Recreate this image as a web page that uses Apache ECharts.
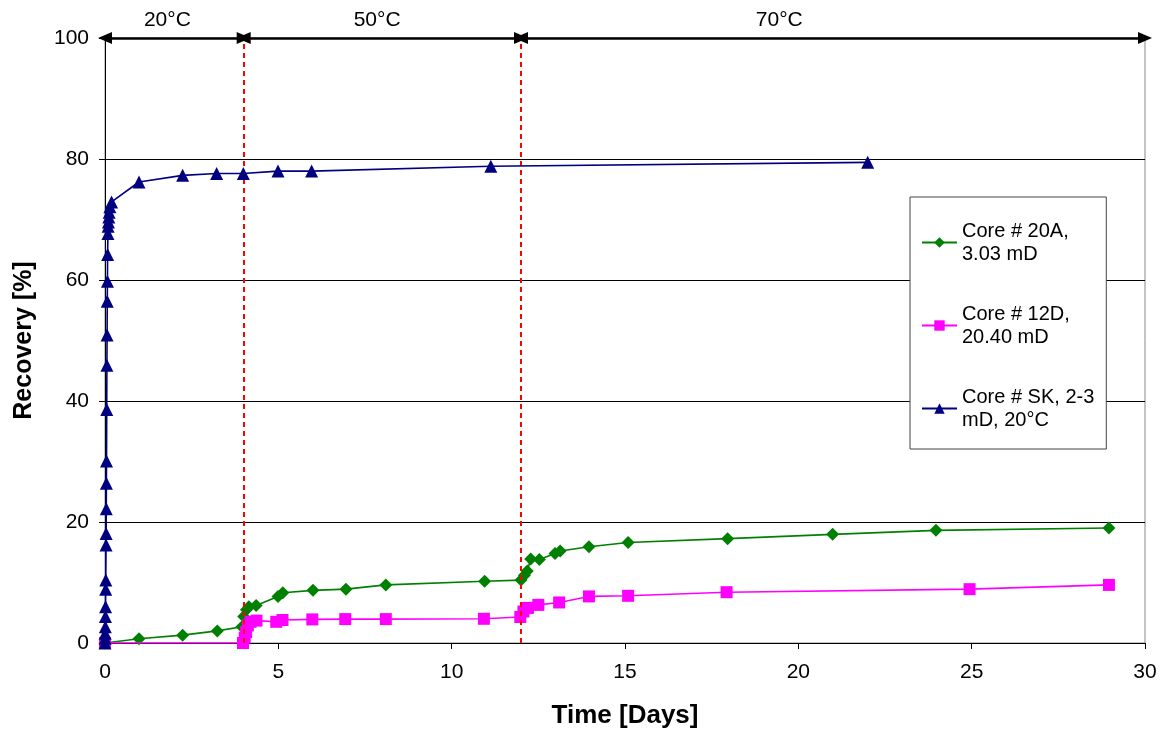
<!DOCTYPE html>
<html>
<head>
<meta charset="utf-8">
<script src="https://cdn.jsdelivr.net/npm/echarts@6/dist/echarts.min.js"></script>
<style>
html,body{margin:0;padding:0;background:#fff;}
#chart{width:1165px;height:734px;}
</style>
</head>
<body>
<div id="chart"></div>
<script>
// ---- data ----
const xTicks = [0, 5, 10, 15, 20, 25, 30];
const yTicks = [0, 20, 40, 60, 80, 100];

const core20A_t = [0, 0.98, 2.24, 3.24, 3.95, 4.0, 4.08, 4.15, 4.36, 4.99, 5.13, 6.0, 6.95, 8.1, 10.95, 12.0, 12.1, 12.18, 12.28, 12.53, 12.98, 13.13, 13.96, 15.09, 17.96, 20.99, 23.97, 28.96];
const core20A_r = [0, 0.7, 1.3, 2.0, 2.7, 4.4, 5.5, 6.0, 6.2, 7.7, 8.3, 8.7, 8.9, 9.6, 10.2, 10.4, 11.2, 11.9, 13.9, 13.8, 14.8, 15.2, 15.9, 16.6, 17.25, 17.96, 18.62, 19.0];

const core12D_t = [0, 3.98, 4.03, 4.07, 4.12, 4.2, 4.37, 4.94, 5.12, 5.98, 6.93, 8.1, 10.93, 11.98, 12.07, 12.2, 12.5, 13.1, 13.96, 15.09, 17.93, 24.94, 28.96];
const core12D_r = [0, 0, 0.9, 1.8, 2.9, 3.5, 3.7, 3.5, 3.8, 3.9, 3.95, 3.95, 4.0, 4.3, 5.2, 5.8, 6.3, 6.7, 7.7, 7.8, 8.4, 8.9, 9.6];

const coreSK_t = [0, 0.003, 0.006, 0.01, 0.013, 0.016, 0.02, 0.023, 0.03, 0.033, 0.037, 0.04, 0.044, 0.05, 0.055, 0.06, 0.065, 0.07, 0.075, 0.085, 0.09, 0.1, 0.11, 0.12, 0.14, 0.19, 0.98, 2.24, 3.22, 3.99, 4.99, 5.96, 11.13, 22.0];
const coreSK_r = [0, 0.8, 1.6, 2.7, 4.4, 6.0, 8.9, 10.4, 16.2, 18.1, 22.2, 26.4, 30.1, 38.6, 45.9, 50.9, 56.5, 59.8, 64.2, 67.7, 68.9, 69.6, 70.4, 71.2, 72.1, 72.9, 76.2, 77.3, 77.6, 77.6, 78.0, 78.0, 78.8, 79.45];

const seriesNames = ['Core # 20A,\n3.03 mD', 'Core # 12D,\n20.40 mD', 'Core # SK, 2-3\nmD, 20°C'];

const phaseNames = ['20°C', '50°C', '70°C'];
const phaseBounds = [0, 4, 12, 30];
const phaseLabelAt = [1.8, 7.85, 19.45];
const arrowLevel = 100;

// ---- build ----
const pairs = (xs, ys) => xs.map((x, i) => [x, ys[i]]);
const FONT = '"Liberation Sans", Arial, sans-serif';

const arrowData = phaseNames.map((n, i) => [
  { coord: [phaseBounds[i], arrowLevel] },
  { coord: [phaseBounds[i + 1], arrowLevel] }
]);
const phaseLabelData = phaseNames.map((n, i) => ({ name: n, coord: [phaseLabelAt[i], arrowLevel] }));
const dividerData = phaseBounds.slice(1, -1).map(b => ({ xAxis: b }));

const chart = echarts.init(document.getElementById('chart'), null, { renderer: 'canvas' });
chart.setOption({
  animation: false,
  backgroundColor: '#fff',
  grid: { left: 105, right: 20, top: 38, bottom: 88, show: true, borderColor: '#888', borderWidth: 1 },
  xAxis: {
    type: 'value', min: 0, max: 30, interval: 5,
    name: 'Time [Days]', nameLocation: 'middle', nameGap: 60,
    nameTextStyle: { fontFamily: FONT, fontSize: 26, fontWeight: 'bold', color: '#000' },
    axisLine: { lineStyle: { color: '#000', width: 1 } },
    axisTick: { show: true, length: 6, lineStyle: { color: '#000' } },
    axisLabel: { fontFamily: FONT, fontSize: 21, color: '#000', margin: 19 },
    splitLine: { show: false }
  },
  yAxis: {
    type: 'value', min: 0, max: 100, interval: 20,
    name: 'Recovery [%]', nameLocation: 'middle', nameGap: 68, nameRotate: 90,
    nameTextStyle: { fontFamily: FONT, fontSize: 25, fontWeight: 'bold', color: '#000' },
    axisLine: { show: true, lineStyle: { color: '#000', width: 1 } },
    axisTick: { show: true, length: 6, lineStyle: { color: '#000' } },
    axisLabel: { fontFamily: FONT, fontSize: 21, color: '#000', margin: 16 },
    splitLine: { show: true, lineStyle: { color: '#000', width: 1 } }
  },
  legend: {
    data: seriesNames,
    orient: 'vertical',
    left: 910, top: 197,
    backgroundColor: '#fff',
    borderColor: '#444', borderWidth: 1,
    padding: [11, 12, 6, 11],
    itemGap: 14,
    itemWidth: 35, itemHeight: 13,
    textStyle: { fontFamily: FONT, fontSize: 20, color: '#000', lineHeight: 23, padding: [23, 0, 0, 0] }
  },
  series: [
    {
      name: seriesNames[0], type: 'line', data: pairs(core20A_t, core20A_r),
      symbol: 'diamond', symbolSize: 13,
      itemStyle: { color: '#008000' }, lineStyle: { color: '#008000', width: 1.6 },
      z: 3,
      markLine: {
        silent: true, symbol: 'none', animation: false,
        lineStyle: { color: '#ff0000', type: [5, 4], width: 2 },
        label: { show: false },
        data: dividerData
      },
      markPoint: {
        silent: true, symbol: 'circle', symbolSize: 0, animation: false,
        label: { show: true, position: 'inside', offset: [0, -18], formatter: '{b}', fontFamily: FONT, fontSize: 21, color: '#000' },
        data: phaseLabelData
      }
    },
    {
      name: seriesNames[1], type: 'line', data: pairs(core12D_t, core12D_r),
      symbol: 'rect', symbolSize: 12,
      itemStyle: { color: '#ff00ff' }, lineStyle: { color: '#ff00ff', width: 1.6 },
      z: 4
    },
    {
      name: seriesNames[2], type: 'line', data: pairs(coreSK_t, coreSK_r),
      symbol: 'triangle', symbolSize: 13,
      itemStyle: { color: '#000080' }, lineStyle: { color: '#000080', width: 1.6 },
      z: 5,
      markLine: {
        silent: true, animation: false,
        symbol: ['triangle', 'triangle'], symbolSize: [12, 14],
        lineStyle: { color: '#000', type: 'solid', width: 2.5 },
        label: { show: false },
        data: arrowData
      }
    }
  ]
});
</script>
</body>
</html>
